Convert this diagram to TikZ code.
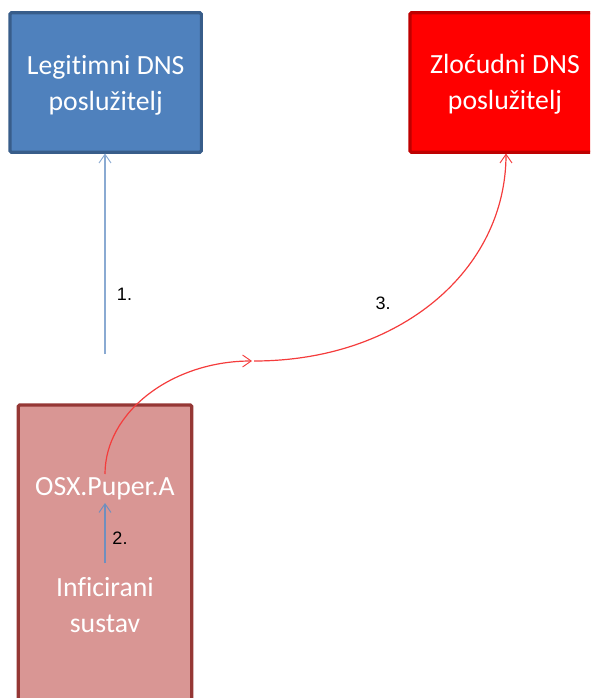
\documentclass[tikz,border=0pt]{standalone}
\usepackage{fontspec}
\setmainfont[RawFeature=-liga]{Carlito}
\newfontfamily\labelfont{Liberation Sans}
\usetikzlibrary{arrows.meta}
\definecolor{blueFill}{HTML}{4F81BD}
\definecolor{blueEdge}{HTML}{385D8A}
\definecolor{blueLine}{HTML}{8AAAD2}
\definecolor{blueLineDark}{HTML}{6F8FBF}
\definecolor{redEdge}{HTML}{BE0000}
\definecolor{pinkFill}{HTML}{D99694}
\definecolor{pinkEdge}{HTML}{953735}
\definecolor{curveRed}{HTML}{F43C3C}
\tikzset{
  x=0.75pt,y=-0.75pt,
  srv/.style={rounded corners=1pt,line width=2.4pt,inner sep=0pt,outer sep=0pt},
  boxtext/.style={text=white,font=\fontsize{20.8pt}{27pt}\selectfont,align=center,inner sep=0pt},
  num/.style={font=\labelfont\fontsize{13.5pt}{15pt}\selectfont,text=black,inner sep=0pt},
  barb/.style={-{Straight Barb[length=6.5pt,width=9pt,line width=0.7pt]}},
  conn/.style={line width=0.9pt,barb},
}
\begin{document}
\begin{tikzpicture}
\useasboundingbox (0,0) rectangle (590,698);
\clip (0,0) rectangle (590,698);
\node[srv,draw=blueEdge,fill=blueFill,minimum width=143.5pt,minimum height=104.5pt] (legit) at (105.7,82.5) {};
\node[srv,draw=redEdge,fill=red,minimum width=144pt,minimum height=104.5pt] (evil) at (506,82.5) {};
\node[srv,draw=pinkEdge,fill=pinkFill,minimum width=130pt,minimum height=300pt] (host) at (105,605) {};
\node[boxtext] (legittext) at (105.7,85) {Legitimni DNS\\poslužitelj};
\node[boxtext] (eviltext) at (505,84) {Zloćudni DNS\\poslužitelj};
\node[boxtext] (puper) at (105,489) {OSX.Puper.A};
\node[boxtext] (inf) at (105,605) {Inficirani\\sustav};
\coordinate (start1) at (105,354);
\coordinate (start2) at (105,563);
\coordinate (curvestart) at (105,474);
\coordinate (mid) at (252,361);
\coordinate (mid2) at (254,361);
\coordinate (legitin) at (105,153.5);
\coordinate (evilin) at (506,153.5);
\coordinate (puperin) at (105,503);
\draw[conn,blueLine] (start1) -- (legitin);
\draw[conn,blueLineDark] (start2) -- (puperin);
\draw[conn,curveRed] (curvestart) .. controls (105,412) and (172,361) .. (mid);
\draw[conn,curveRed] (mid2) .. controls (400,361) and (506,270) .. (evilin);
\node[num] (n1) at (124.5,294) {1.};
\node[num] (n2) at (120,538) {2.};
\node[num] (n3) at (383,303) {3.};
\end{tikzpicture}
\end{document}
